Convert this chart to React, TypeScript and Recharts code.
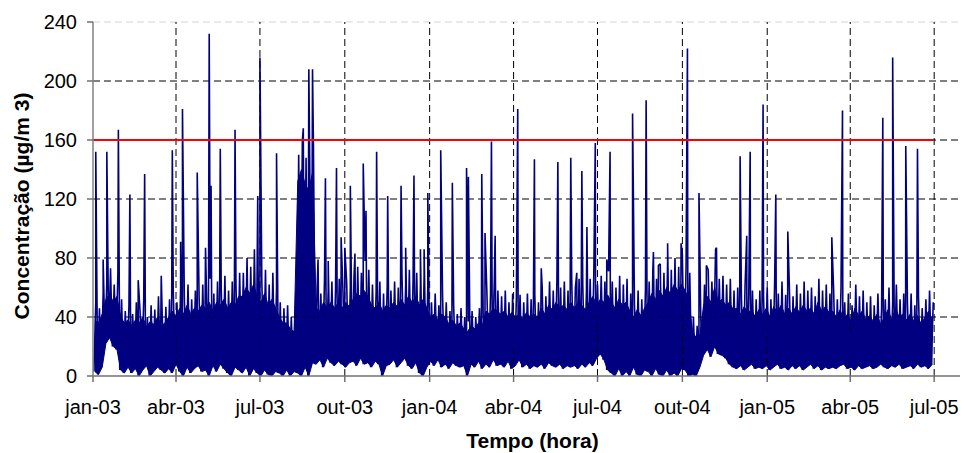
import React from 'react';
import { ComposedChart, Area, Line, XAxis, YAxis, ReferenceLine } from 'recharts';

// Hourly concentration, one block per 4 days:
// lowest value, top of the dense (solid) part, and top of the ragged peaks.
const SEGMENT_DAYS = 4;
const BAND_HIGH = [
  50, 46, 56, 64, 72, 62, 70, 52, 44, 48,
  42, 50, 44, 52, 40, 48, 45, 54, 42, 47,
  52, 58, 50, 60, 54, 62, 52, 58, 55, 62,
  58, 66, 56, 64, 60, 68, 58, 64, 62, 70,
  70, 80, 74, 86, 70, 66, 72, 62, 70, 60,
  50, 46, 48, 40, 38, 150, 160, 148, 142, 156,
  60, 56, 66, 58, 64, 60, 66, 58, 64, 60,
  68, 74, 70, 78, 72, 62, 58, 64, 56, 62,
  58, 64, 60, 68, 62, 72, 64, 70, 62, 68,
  60, 50, 56, 48, 54, 50, 44, 48, 42, 46,
  40, 37, 44, 40, 46, 42, 58, 56, 62, 58,
  54, 58, 50, 56, 52, 55, 50, 56, 52, 55,
  50, 60, 54, 64, 58, 66, 60, 64, 58, 66,
  60, 66, 62, 58, 66, 70, 62, 68, 64, 71,
  64, 60, 68, 62, 66, 56, 50, 58, 52, 60,
  64, 72, 66, 76, 70, 78, 72, 80, 74, 82,
  74, 70, 40, 34, 38, 62, 72, 64, 86, 66,
  68, 62, 66, 58, 60, 54, 62, 56, 58, 52,
  58, 54, 60, 52, 62, 56, 64, 55, 60, 54,
  62, 56, 64, 58, 60, 54, 66, 58, 62, 56,
  58, 52, 60, 50, 56, 48, 62, 54, 58, 50,
  54, 48, 56, 46, 52, 60, 50, 62, 52, 56,
  50, 56, 48, 54, 46, 52, 58, 50,
];
const BAND_CORE = [
  38, 36, 42, 52, 56, 50, 54, 40, 36, 38,
  34, 38, 36, 40, 33, 37, 35, 40, 34, 36,
  40, 44, 40, 46, 42, 48, 42, 46, 44, 48,
  46, 50, 44, 50, 48, 52, 46, 50, 48, 54,
  54, 60, 56, 62, 54, 50, 56, 48, 52, 46,
  40, 36, 36, 32, 30, 132, 140, 130, 126, 138,
  46, 44, 50, 46, 50, 46, 50, 46, 50, 47,
  52, 56, 54, 58, 54, 48, 46, 50, 44, 48,
  46, 50, 47, 52, 48, 54, 50, 54, 48, 52,
  46, 40, 42, 38, 42, 40, 35, 38, 34, 36,
  32, 30, 34, 32, 36, 34, 44, 42, 46, 44,
  42, 44, 40, 43, 40, 42, 39, 43, 40, 42,
  40, 46, 42, 48, 45, 50, 46, 48, 45, 50,
  46, 50, 48, 45, 50, 54, 48, 52, 50, 55,
  50, 46, 52, 48, 50, 44, 40, 45, 41, 46,
  50, 56, 52, 58, 54, 60, 56, 62, 58, 62,
  58, 52, 30, 26, 28, 48, 54, 50, 60, 50,
  52, 48, 50, 45, 46, 42, 47, 43, 45, 40,
  45, 42, 46, 40, 47, 43, 48, 42, 46, 42,
  47, 43, 48, 44, 46, 42, 50, 44, 47, 43,
  44, 40, 45, 38, 42, 37, 46, 41, 44, 38,
  41, 37, 42, 35, 40, 45, 38, 46, 40, 42,
  38, 42, 37, 41, 35, 40, 44, 38,
];
const BAND_LOW = [
  3, 1, 6, 22, 26, 20, 18, 4, 2, 6,
  2, 5, 0, 4, 7, 0, 3, 6, 4, 2,
  5, 2, 8, 3, 0, 6, 2, 5, 7, 3,
  4, 0, 7, 3, 8, 5, 2, 0, 6, 4,
  2, 6, 0, 5, 2, 0, 4, 1, 0, 3,
  2, 0, 4, 0, 3, 2, 0, 6, 0, 9,
  8, 11, 6, 12, 9, 7, 10, 8, 6, 9,
  10, 7, 12, 8, 9, 6, 10, 8, 0, 7,
  8, 11, 6, 9, 12, 7, 5, 9, 2, 0,
  6, 10, 7, 11, 6, 8, 5, 9, 7, 6,
  7, 0, 8, 6, 10, 5, 8, 6, 11, 7,
  8, 6, 10, 5, 7, 11, 6, 8, 5, 7,
  6, 8, 5, 9, 7, 6, 8, 5, 7, 6,
  7, 5, 8, 6, 9, 7, 12, 15, 11, 4,
  2, 0, 5, 0, 3, 0, 6, 1, 0, 4,
  3, 0, 5, 1, 0, 4, 0, 2, 0, 5,
  4, 0, 1, 0, 6, 14, 18, 13, 20, 15,
  14, 12, 8, 6, 5, 7, 4, 6, 8, 5,
  6, 5, 7, 4, 6, 8, 5, 6, 4, 7,
  5, 7, 4, 6, 8, 5, 7, 4, 6, 5,
  6, 5, 7, 8, 5, 6, 4, 7, 5, 6,
  7, 5, 6, 8, 6, 5, 7, 6, 8, 5,
  6, 7, 5, 8, 6, 7, 5, 8,
];

// Isolated peaks (day since 1 Jan 2003, concentration)
const SPIKE_DAYS = [
  3, 11, 15, 19, 27.5, 40, 49, 56, 74, 86, 95, 97, 113, 122, 126, 128, 138, 154,
  178.6, 181, 199, 228, 234, 238, 244, 252, 255, 264, 269, 273, 279, 284, 293, 296, 307.5, 319.5,
  334, 339, 348, 355, 359, 363, 377, 389.6, 405, 407, 421.5, 425, 432, 436, 460.5, 478.6, 486,
  504, 518, 524.5, 530, 535.5, 544.6, 557, 560.6, 585, 599.7, 607.6, 613, 623, 637.6, 644.5,
  657, 665, 676, 701.6, 708.8, 712.5, 726.5, 740.3, 753.3, 801, 812.6,
  856.3, 867, 881.2, 893.9,
];
const SPIKE_VALUES = [
  152, 79, 152, 73, 167, 123, 65, 137, 68, 153, 91, 181, 138, 87, 232, 129, 154, 167,
  122, 216, 151, 168, 208, 208, 79, 134, 78, 141, 94, 87, 129, 83, 144, 112, 152, 122,
  129, 87, 136, 86, 86, 124, 153, 131, 141, 135, 137, 97, 159, 95, 181, 147, 73,
  145, 148, 70, 139, 101, 158, 79, 152, 178, 187, 84, 75, 90, 90, 222,
  124, 75, 87, 149, 95, 152, 184, 123, 98, 94, 180,
  175, 216, 156, 154,
];

const LIMIT_VALUE = 160;
const LIMIT_DAYS = [0, 911];

const X_TICK_DAYS = [0, 90, 181, 273, 365, 456, 547, 639, 731, 821, 912];
const X_TICK_LABELS = ['jan-03', 'abr-03', 'jul-03', 'out-03', 'jan-04', 'abr-04', 'jul-04', 'out-04', 'jan-05', 'abr-05', 'jul-05'];
const Y_TICKS = [0, 40, 80, 120, 160, 200, 240];
const GRID_Y = [40, 80, 120, 160, 200];
const GRID_Y_TOP = 240;

const coreRows = BAND_LOW.map((lo, i) => ({ day: i * SEGMENT_DAYS + 2, range: [lo, BAND_CORE[i]] }));
const signalRows: { day: number; conc: number }[] = [];
BAND_LOW.forEach((lo, i) => {
  signalRows.push({ day: i * SEGMENT_DAYS + 1, conc: lo });
  signalRows.push({ day: i * SEGMENT_DAYS + 3, conc: BAND_HIGH[i] });
});
SPIKE_DAYS.forEach((d, i) => signalRows.push({ day: d, conc: SPIKE_VALUES[i] }));
signalRows.sort((a, b) => a.day - b.day);
const limitRows = LIMIT_DAYS.map((d) => ({ day: d, limit: LIMIT_VALUE }));

const FONT = "'Liberation Sans', Arial, sans-serif";
const NAVY = '#000080';

const XTitle = (props: any) => {
  const vb = props.viewBox || { x: 93, y: 376, width: 867, height: 77 };
  return (
    <text x={vb.x + vb.width / 2 + 6} y={vb.y + 72} textAnchor="middle" fontFamily={FONT} fontSize={21} fontWeight="bold" fill="#000">
      Tempo (hora)
    </text>
  );
};

const YTitle = (props: any) => {
  const vb = props.viewBox || { x: 0, y: 22, width: 93, height: 354 };
  const x = vb.x + 29;
  const y = vb.y + vb.height / 2 + 7;
  return (
    <text x={x} y={y} transform={`rotate(-90, ${x}, ${y})`} textAnchor="middle" fontFamily={FONT} fontSize={21} fontWeight="bold" fill="#000">
      Concentração (µg/m 3)
    </text>
  );
};

export default function App() {
  return (
    <div style={{ position: 'absolute', left: 0, top: 0, width: 964, height: 453, background: '#fff' }}>
      <ComposedChart width={964} height={453} margin={{ top: 22, right: 4, bottom: 0, left: 0 }}>
        <XAxis
          dataKey="day"
          type="number"
          domain={[0, 940]}
          ticks={X_TICK_DAYS}
          interval={0}
          tickFormatter={(v: number) => X_TICK_LABELS[X_TICK_DAYS.indexOf(v)]}
          height={77}
          tickSize={6}
          tickMargin={18}
          axisLine={{ stroke: '#707070', strokeWidth: 1.5 }}
          tickLine={{ stroke: '#707070', strokeWidth: 1.5 }}
          tick={{ fontSize: 20, fill: '#000', fontFamily: FONT }}
          label={<XTitle />}
          allowDataOverflow
        />
        <YAxis
          type="number"
          domain={[0, 240]}
          ticks={Y_TICKS}
          interval={0}
          width={93}
          tickSize={6}
          tickMargin={10}
          axisLine={{ stroke: '#808080', strokeWidth: 1.5 }}
          tickLine={{ stroke: '#707070', strokeWidth: 1.5 }}
          tick={{ fontSize: 20, fill: '#000', fontFamily: FONT }}
          label={<YTitle />}
          allowDataOverflow
        />
        {GRID_Y.map((v) => (
          <ReferenceLine key={'gy' + v} y={v} stroke="#000" strokeWidth={1} strokeDasharray="7 4" />
        ))}
        <ReferenceLine y={GRID_Y_TOP} stroke="#d4d4d4" strokeWidth={1} strokeDasharray="7 4" />
        {X_TICK_DAYS.slice(1).map((d) => (
          <ReferenceLine key={'gx' + d} x={d} stroke="#000" strokeWidth={1} strokeDasharray="7 4" />
        ))}
        <Area
          data={coreRows}
          dataKey="range"
          type="linear"
          stroke={NAVY}
          strokeWidth={1}
          fill={NAVY}
          fillOpacity={1}
          isAnimationActive={false}
          dot={false}
          activeDot={false}
        />
        <Line
          data={signalRows}
          dataKey="conc"
          type="linear"
          stroke={NAVY}
          strokeWidth={1.6}
          strokeLinejoin="bevel"
          dot={false}
          activeDot={false}
          isAnimationActive={false}
        />
        <Line
          data={limitRows}
          dataKey="limit"
          type="linear"
          stroke="#ff0000"
          strokeWidth={2}
          dot={false}
          activeDot={false}
          isAnimationActive={false}
        />
      </ComposedChart>
    </div>
  );
}
